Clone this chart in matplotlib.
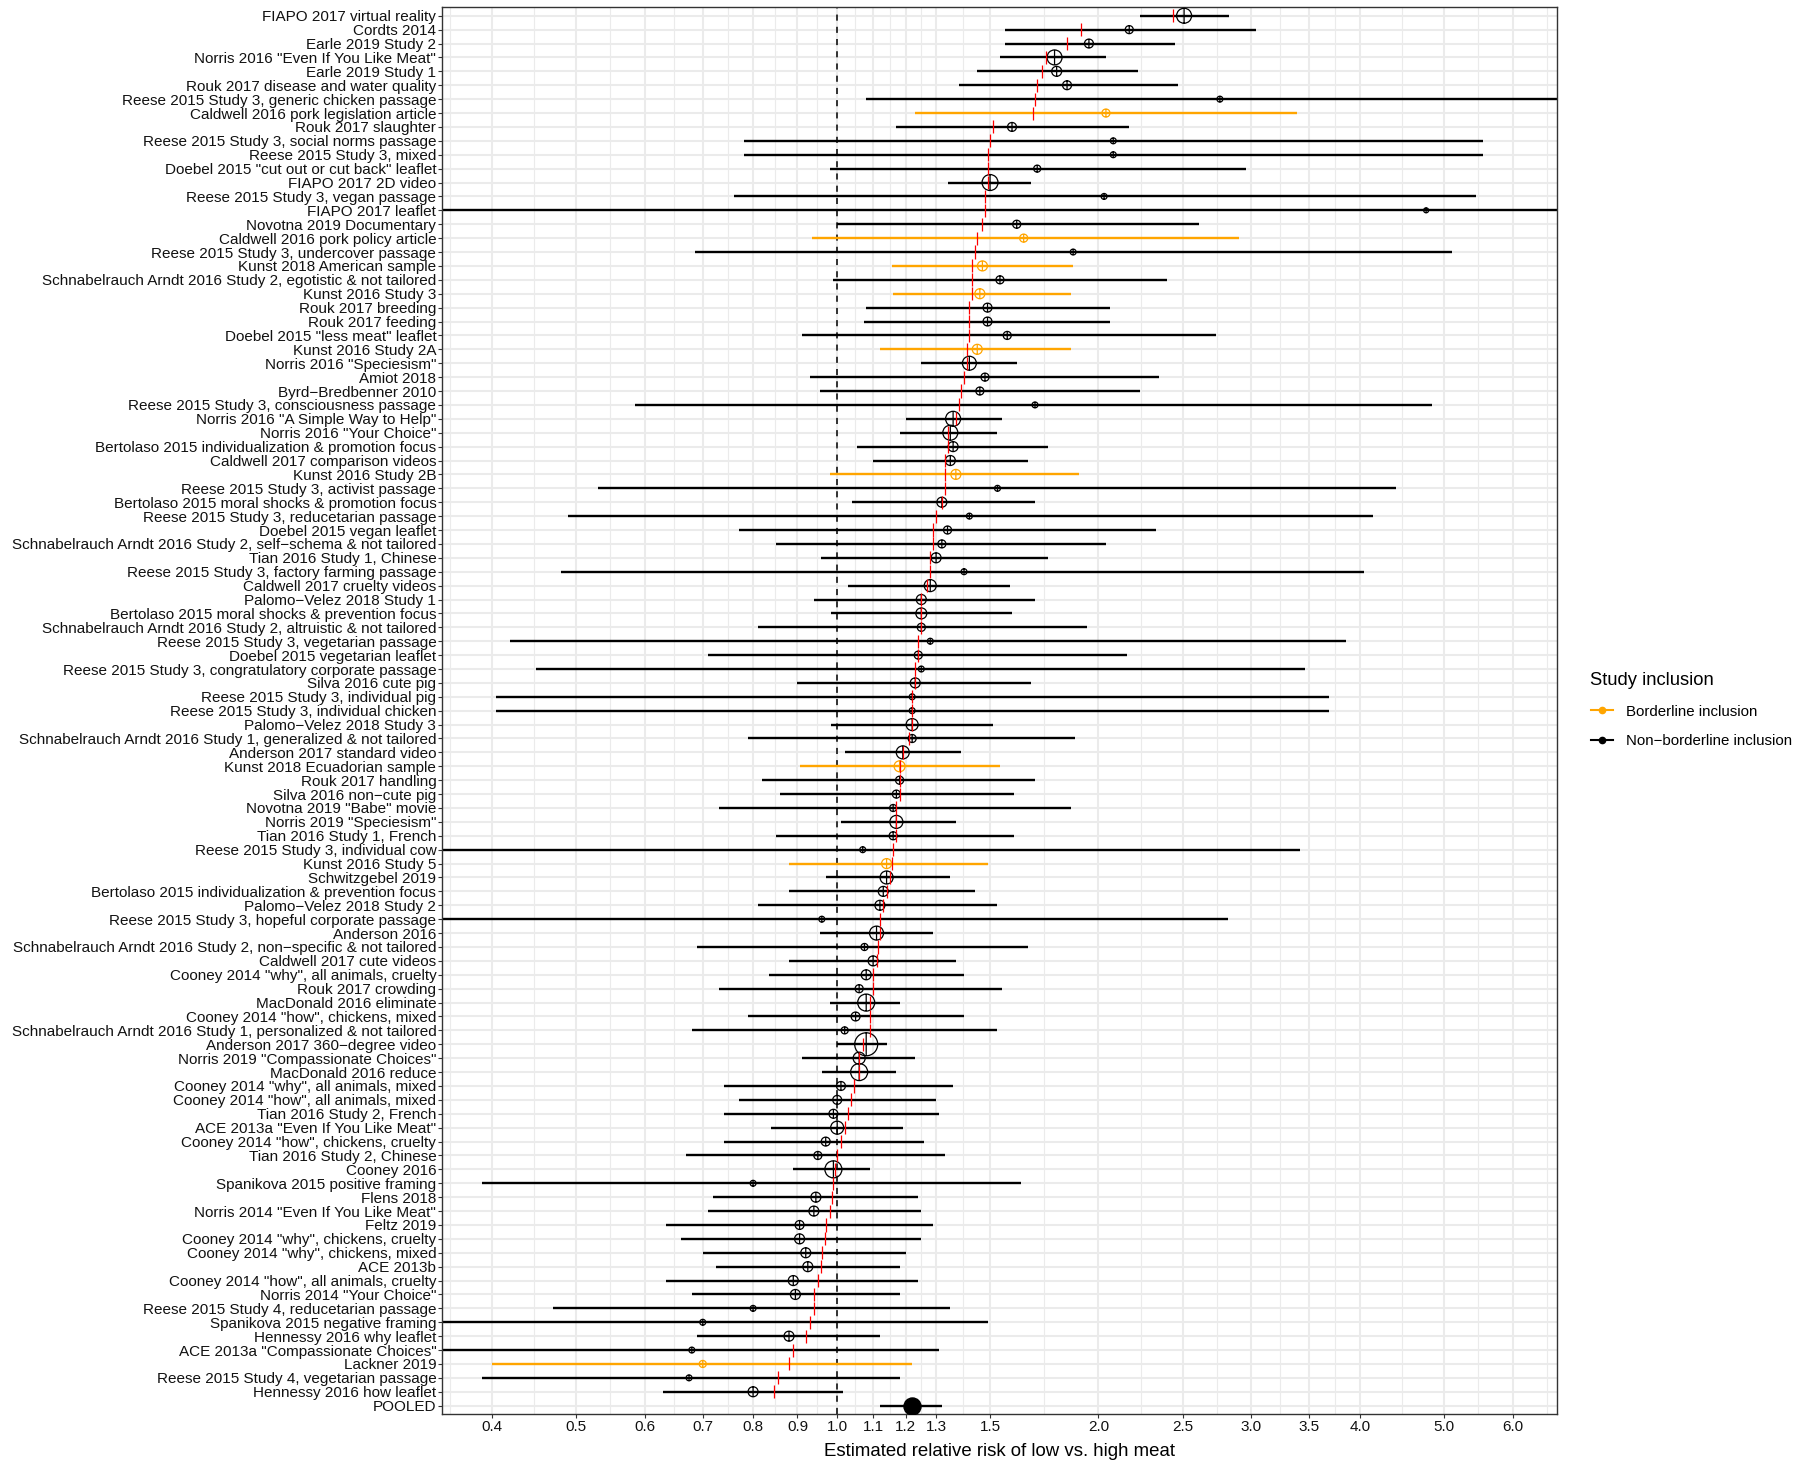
import numpy as np
import matplotlib
matplotlib.use('Agg')
import matplotlib.pyplot as plt
from matplotlib.path import Path
from matplotlib.lines import Line2D
from matplotlib.ticker import FixedLocator, NullFormatter, FixedFormatter

plt.rcParams['font.family'] = ['Liberation Sans', 'DejaVu Sans']

studies = [
    'FIAPO 2017 virtual reality', 'Cordts 2014', 'Earle 2019 Study 2',
    'Norris 2016 "Even If You Like Meat"', 'Earle 2019 Study 1',
    'Rouk 2017 disease and water quality', 'Reese 2015 Study 3, generic chicken passage',
    'Caldwell 2016 pork legislation article', 'Rouk 2017 slaughter',
    'Reese 2015 Study 3, social norms passage', 'Reese 2015 Study 3, mixed',
    'Doebel 2015 "cut out or cut back" leaflet', 'FIAPO 2017 2D video',
    'Reese 2015 Study 3, vegan passage', 'FIAPO 2017 leaflet', 'Novotna 2019 Documentary',
    'Caldwell 2016 pork policy article', 'Reese 2015 Study 3, undercover passage',
    'Kunst 2018 American sample', 'Schnabelrauch Arndt 2016 Study 2, egotistic & not tailored',
    'Kunst 2016 Study 3', 'Rouk 2017 breeding', 'Rouk 2017 feeding',
    'Doebel 2015 "less meat" leaflet', 'Kunst 2016 Study 2A', 'Norris 2016 "Speciesism"',
    'Amiot 2018', 'Byrd\u2212Bredbenner 2010', 'Reese 2015 Study 3, consciousness passage',
    'Norris 2016 "A Simple Way to Help"', 'Norris 2016 "Your Choice"',
    'Bertolaso 2015 individualization & promotion focus', 'Caldwell 2017 comparison videos',
    'Kunst 2016 Study 2B', 'Reese 2015 Study 3, activist passage',
    'Bertolaso 2015 moral shocks & promotion focus', 'Reese 2015 Study 3, reducetarian passage',
    'Doebel 2015 vegan leaflet', 'Schnabelrauch Arndt 2016 Study 2, self\u2212schema & not tailored',
    'Tian 2016 Study 1, Chinese', 'Reese 2015 Study 3, factory farming passage',
    'Caldwell 2017 cruelty videos', 'Palomo\u2212Velez 2018 Study 1',
    'Bertolaso 2015 moral shocks & prevention focus',
    'Schnabelrauch Arndt 2016 Study 2, altruistic & not tailored',
    'Reese 2015 Study 3, vegetarian passage', 'Doebel 2015 vegetarian leaflet',
    'Reese 2015 Study 3, congratulatory corporate passage', 'Silva 2016 cute pig',
    'Reese 2015 Study 3, individual pig', 'Reese 2015 Study 3, individual chicken',
    'Palomo\u2212Velez 2018 Study 3', 'Schnabelrauch Arndt 2016 Study 1, generalized & not tailored',
    'Anderson 2017 standard video', 'Kunst 2018 Ecuadorian sample', 'Rouk 2017 handling',
    'Silva 2016 non\u2212cute pig', 'Novotna 2019 "Babe" movie', 'Norris 2019 "Speciesism"',
    'Tian 2016 Study 1, French', 'Reese 2015 Study 3, individual cow', 'Kunst 2016 Study 5',
    'Schwitzgebel 2019', 'Bertolaso 2015 individualization & prevention focus',
    'Palomo\u2212Velez 2018 Study 2', 'Reese 2015 Study 3, hopeful corporate passage',
    'Anderson 2016', 'Schnabelrauch Arndt 2016 Study 2, non\u2212specific & not tailored',
    'Caldwell 2017 cute videos', 'Cooney 2014 "why", all animals, cruelty', 'Rouk 2017 crowding',
    'MacDonald 2016 eliminate', 'Cooney 2014 "how", chickens, mixed',
    'Schnabelrauch Arndt 2016 Study 1, personalized & not tailored',
    'Anderson 2017 360\u2212degree video', 'Norris 2019 "Compassionate Choices"',
    'MacDonald 2016 reduce', 'Cooney 2014 "why", all animals, mixed',
    'Cooney 2014 "how", all animals, mixed', 'Tian 2016 Study 2, French',
    'ACE 2013a "Even If You Like Meat"', 'Cooney 2014 "how", chickens, cruelty',
    'Tian 2016 Study 2, Chinese', 'Cooney 2016', 'Spanikova 2015 positive framing', 'Flens 2018',
    'Norris 2014 "Even If You Like Meat"', 'Feltz 2019', 'Cooney 2014 "why", chickens, cruelty',
    'Cooney 2014 "why", chickens, mixed', 'ACE 2013b', 'Cooney 2014 "how", all animals, cruelty',
    'Norris 2014 "Your Choice"', 'Reese 2015 Study 4, reducetarian passage',
    'Spanikova 2015 negative framing', 'Hennessy 2016 why leaflet',
    'ACE 2013a "Compassionate Choices"', 'Lackner 2019', 'Reese 2015 Study 4, vegetarian passage',
    'Hennessy 2016 how leaflet',
]

est = [2.51, 2.17, 1.95, 1.78, 1.79, 1.84, 2.76, 2.04, 1.59, 2.08,
       2.08, 1.70, 1.50, 2.03, 4.77, 1.61, 1.64, 1.87, 1.47, 1.54,
       1.46, 1.49, 1.49, 1.57, 1.45, 1.42, 1.48, 1.46, 1.69, 1.36,
       1.35, 1.36, 1.35, 1.37, 1.53, 1.32, 1.42, 1.34, 1.32, 1.30,
       1.40, 1.28, 1.25, 1.25, 1.25, 1.28, 1.24, 1.25, 1.23, 1.22,
       1.22, 1.22, 1.22, 1.19, 1.18, 1.18, 1.17, 1.16, 1.17, 1.16,
       1.07, 1.14, 1.14, 1.13, 1.12, 0.96, 1.11, 1.075, 1.10, 1.08,
       1.06, 1.08, 1.05, 1.02, 1.08, 1.06, 1.06, 1.01, 1.00, 0.99,
       1.00, 0.97, 0.95, 0.99, 0.80, 0.945, 0.94, 0.905, 0.905, 0.92,
       0.925, 0.89, 0.895, 0.80, 0.70, 0.88, 0.68, 0.70, 0.675, 0.80]

lower = [2.23, 1.56, 1.56, 1.54, 1.45, 1.38, 1.08, 1.23, 1.17, 0.78,
         0.78, 0.98, 1.34, 0.76, 0.30, 1.00, 0.935, 0.685, 1.155, 0.99,
         1.16, 1.08, 1.075, 0.91, 1.12, 1.25, 0.93, 0.956, 0.585, 1.20,
         1.18, 1.055, 1.10, 0.98, 0.53, 1.04, 0.49, 0.77, 0.85, 0.958,
         0.48, 1.03, 0.94, 0.985, 0.81, 0.42, 0.71, 0.45, 0.90, 0.405,
         0.405, 0.985, 0.79, 1.02, 0.905, 0.82, 0.86, 0.73, 1.01, 0.85,
         0.33, 0.88, 0.97, 0.88, 0.81, 0.33, 0.956, 0.69, 0.88, 0.835,
         0.73, 0.98, 0.79, 0.68, 1.00, 0.91, 0.96, 0.74, 0.77, 0.74,
         0.84, 0.74, 0.67, 0.89, 0.39, 0.72, 0.71, 0.635, 0.66, 0.70,
         0.725, 0.635, 0.68, 0.47, 0.33, 0.69, 0.33, 0.40, 0.39, 0.63]

upper = [2.83, 3.04, 2.45, 2.04, 2.22, 2.47, 7.5, 3.39, 2.17, 5.55,
         5.55, 2.96, 1.67, 5.44, 8.0, 2.61, 2.90, 5.11, 1.87, 2.40,
         1.86, 2.06, 2.06, 2.73, 1.86, 1.61, 2.35, 2.23, 4.85, 1.55,
         1.53, 1.75, 1.66, 1.90, 4.40, 1.69, 4.14, 2.33, 2.04, 1.75,
         4.04, 1.58, 1.69, 1.59, 1.94, 3.86, 2.16, 3.46, 1.67, 3.69,
         3.69, 1.51, 1.88, 1.39, 1.54, 1.69, 1.60, 1.86, 1.37, 1.60,
         3.41, 1.49, 1.35, 1.44, 1.53, 2.82, 1.29, 1.66, 1.37, 1.40,
         1.55, 1.18, 1.40, 1.53, 1.14, 1.23, 1.17, 1.36, 1.30, 1.31,
         1.19, 1.26, 1.33, 1.09, 1.63, 1.24, 1.25, 1.29, 1.25, 1.20,
         1.18, 1.24, 1.18, 1.35, 1.49, 1.12, 1.31, 1.22, 1.18, 1.015]

calibrated = [2.44, 1.91, 1.84, 1.74, 1.72, 1.70, 1.69, 1.68, 1.51, 1.50,
              1.49, 1.49, 1.49, 1.48, 1.48, 1.47, 1.45, 1.44, 1.43, 1.43,
              1.43, 1.42, 1.42, 1.42, 1.41, 1.41, 1.40, 1.39, 1.38, 1.37,
              1.34, 1.34, 1.33, 1.33, 1.33, 1.32, 1.30, 1.29, 1.29, 1.28,
              1.28, 1.27, 1.25, 1.25, 1.25, 1.24, 1.24, 1.23, 1.23, 1.22,
              1.22, 1.22, 1.21, 1.19, 1.18, 1.18, 1.18, 1.17, 1.17, 1.17,
              1.16, 1.155, 1.15, 1.14, 1.13, 1.12, 1.12, 1.115, 1.11, 1.10,
              1.10, 1.09, 1.09, 1.09, 1.07, 1.06, 1.06, 1.045, 1.036, 1.03,
              1.02, 1.01, 1.00, 0.995, 0.99, 0.986, 0.98, 0.97, 0.967, 0.96,
              0.958, 0.95, 0.94, 0.94, 0.93, 0.92, 0.89, 0.88, 0.854, 0.845]

weight = [9.0, 2.6, 3.2, 9.0, 4.0, 3.2, 1.4, 2.6, 3.2, 1.4,
          1.4, 2.0, 10.2, 1.4, 1.0, 2.6, 2.6, 1.4, 4.0, 2.6,
          4.0, 3.2, 3.2, 2.6, 4.0, 7.8, 2.6, 2.6, 1.4, 9.0,
          9.0, 4.0, 4.0, 4.0, 1.4, 4.0, 1.4, 2.6, 2.6, 4.0,
          1.4, 5.8, 4.0, 4.8, 2.6, 1.4, 2.6, 1.4, 4.0, 1.4,
          1.4, 5.8, 2.6, 6.8, 4.8, 2.6, 2.6, 2.0, 6.8, 2.6,
          1.4, 4.0, 6.8, 4.0, 4.0, 1.4, 7.8, 2.0, 4.0, 4.0,
          2.6, 11.6, 3.2, 2.0, 21.2, 5.8, 11.6, 3.2, 3.2, 3.2,
          6.8, 3.2, 2.6, 11.6, 1.4, 4.0, 4.0, 3.2, 4.0, 4.0,
          4.0, 4.0, 4.0, 1.4, 1.4, 4.0, 1.4, 2.0, 1.4, 4.0]

borderline = [0, 0, 0, 0, 0, 0, 0, 1, 0, 0,
              0, 0, 0, 0, 0, 0, 1, 0, 1, 0,
              1, 0, 0, 0, 1, 0, 0, 0, 0, 0,
              0, 0, 0, 1, 0, 0, 0, 0, 0, 0,
              0, 0, 0, 0, 0, 0, 0, 0, 0, 0,
              0, 0, 0, 0, 1, 0, 0, 0, 0, 0,
              0, 1, 0, 0, 0, 0, 0, 0, 0, 0,
              0, 0, 0, 0, 0, 0, 0, 0, 0, 0,
              0, 0, 0, 0, 0, 0, 0, 0, 0, 0,
              0, 0, 0, 0, 0, 0, 0, 1, 0, 0]

pooled_label = 'POOLED'
pooled_est, pooled_lower, pooled_upper = 1.22, 1.12, 1.32
pooled_weight = 11.6

x_breaks = [0.4, 0.5, 0.6, 0.7, 0.8, 0.9, 1.0, 1.1, 1.2, 1.3, 1.5,
            2.0, 2.5, 3.0, 3.5, 4.0, 5.0, 6.0]
x_limits = (0.3505, 6.75)

legend_title = 'Study inclusion'
legend_labels = ['Borderline inclusion', 'Non\u2212borderline inclusion']
xlab = 'Estimated relative risk of low vs. high meat'

# ---------------------------------------------------------------------------
ORANGE = '#FFA500'
BLACK = '#000000'
GRID = '#EBEBEB'

all_labels = studies + [pooled_label]
n = len(all_labels)
ypos = np.arange(n)
ys = ypos[:-1]
colors = [ORANGE if b else BLACK for b in borderline]

DPI = 100
fig = plt.figure(figsize=(18.0, 14.66), dpi=DPI)
ax = fig.add_axes([442 / 1800, 1 - 1414 / 1466, (1557 - 442) / 1800, (1414 - 7.4) / 1466])

ax.set_xscale('log')
ax.set_xlim(*x_limits)
ax.set_ylim(n - 1 + 0.6, -0.6)

# minor breaks: midpoints in log space, extended by one step at both ends
lb = np.log(x_breaks)
mids = list((lb[:-1] + lb[1:]) / 2)
mids = [lb[0] - (lb[1] - lb[0]) / 2] + mids + [lb[-1] + (lb[-1] - lb[-2]) / 2]
minor = [float(np.exp(m)) for m in mids]

ax.xaxis.set_major_locator(FixedLocator(x_breaks))
ax.xaxis.set_major_formatter(FixedFormatter(['%.1f' % b for b in x_breaks]))
ax.xaxis.set_minor_locator(FixedLocator(minor))
ax.xaxis.set_minor_formatter(NullFormatter())
ax.set_yticks(ypos)
ax.set_yticklabels(all_labels)

ax.grid(which='major', axis='both', color=GRID, lw=1.5, zorder=0)
ax.grid(which='minor', axis='x', color=GRID, lw=0.8, zorder=0)
ax.set_axisbelow(True)

ax.tick_params(axis='both', which='major', length=2.6, width=0.8, color='#333333',
               labelsize=11.0, labelcolor='#111111', pad=1.5)
ax.tick_params(axis='x', which='minor', length=0)
for sp in ax.spines.values():
    sp.set_color('#333333')
    sp.set_linewidth(1.0)

# reference line at 1
ax.axvline(1.0, color='black', lw=1.1, ls=(0, (4, 4)), zorder=1.5)

# confidence intervals
ax.hlines(ys, lower, upper, colors=colors, lw=1.7, zorder=2)
ax.hlines([ypos[-1]], [pooled_lower], [pooled_upper], colors=BLACK, lw=1.7, zorder=2)

# circle-plus marker
circ = Path.unit_circle()
cross = Path([[-1, 0], [1, 0], [0, -1], [0, 1]],
             [Path.MOVETO, Path.LINETO, Path.MOVETO, Path.LINETO])
circle_plus = Path.make_compound_path(circ, cross)

px2pt = 72.0 / DPI
diam_pt = 5.0 * np.sqrt(np.array(weight)) * px2pt
ax.scatter(est, ys, s=diam_pt ** 2, marker=circle_plus, facecolors='none',
           edgecolors=colors, linewidths=0.9, zorder=3)
ax.scatter([pooled_est], [ypos[-1]], s=(5.0 * np.sqrt(pooled_weight) * px2pt) ** 2,
           marker='o', color=BLACK, zorder=3)

# calibrated estimates (red ticks)
ax.vlines(calibrated, ys - 0.47, ys + 0.47, colors='red', lw=0.9, zorder=4)

ax.set_xlabel(xlab, fontsize=13.4, labelpad=7, color='black')

handles = [Line2D([], [], color=ORANGE, lw=1.5, marker='o', markersize=4.5),
           Line2D([], [], color=BLACK, lw=1.5, marker='o', markersize=4.5)]
fig.legend(handles, legend_labels, title=legend_title, loc='center left',
           bbox_to_anchor=(1583 / 1800, 1 - 710 / 1466), frameon=False,
           fontsize=10.8, title_fontsize=13.2, handlelength=1.5, handletextpad=0.9,
           labelspacing=1.05, borderpad=0, alignment='left')

fig.savefig('out.png', dpi=DPI)
